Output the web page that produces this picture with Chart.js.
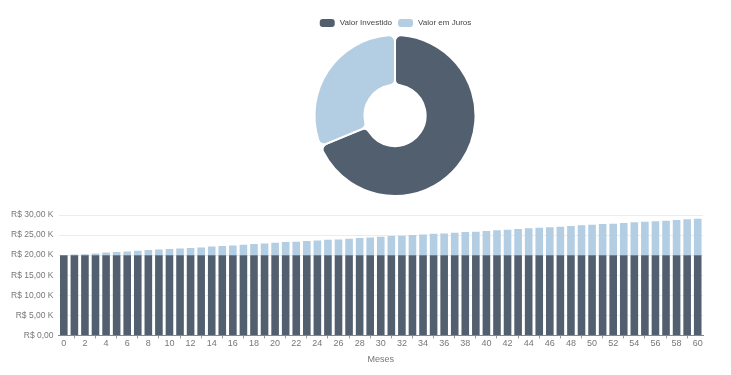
<!DOCTYPE html>
<html>
<head>
<meta charset="utf-8">
<script src="https://cdn.jsdelivr.net/npm/chart.js@4.4.1/dist/chart.umd.min.js"></script>
<style>
  body { margin: 0; background: #fff; width: 731px; height: 375px; position: relative; overflow: hidden; }
  #topBox { position: absolute; left: 60px; top: 0; width: 670px; height: 197px; }
  #barBox { position: absolute; left: 0; top: 198px; width: 731px; height: 177px; }
</style>
</head>
<body>
<div id="topBox"><canvas id="resumoChart"></canvas></div>
<div id="barBox"><canvas id="mesesChart"></canvas></div>
<script>
// dados
const resumoLabels = ['Valor Investido', 'Valor em Juros'];
const resumoValores = [20000, 9080];

const meses = [0, 1, 2, 3, 4, 5, 6, 7, 8, 9, 10, 11, 12, 13, 14, 15, 16, 17, 18, 19, 20,
  21, 22, 23, 24, 25, 26, 27, 28, 29, 30, 31, 32, 33, 34, 35, 36, 37, 38, 39, 40,
  41, 42, 43, 44, 45, 46, 47, 48, 49, 50, 51, 52, 53, 54, 55, 56, 57, 58, 59, 60];

const valorInvestido = [20000, 20000, 20000, 20000, 20000, 20000, 20000, 20000, 20000, 20000, 20000,
  20000, 20000, 20000, 20000, 20000, 20000, 20000, 20000, 20000, 20000,
  20000, 20000, 20000, 20000, 20000, 20000, 20000, 20000, 20000, 20000,
  20000, 20000, 20000, 20000, 20000, 20000, 20000, 20000, 20000, 20000,
  20000, 20000, 20000, 20000, 20000, 20000, 20000, 20000, 20000, 20000,
  20000, 20000, 20000, 20000, 20000, 20000, 20000, 20000, 20000, 20000];

const valorJuros = [0, 170, 250, 420, 670, 750, 920, 1080, 1250, 1420, 1500,
  1670, 1750, 1920, 2170, 2250, 2420, 2580, 2750, 2920, 3080,
  3250, 3330, 3500, 3670, 3830, 3920, 4080, 4250, 4420, 4580,
  4750, 4830, 5000, 5170, 5330, 5420, 5580, 5750, 5830, 6000,
  6170, 6330, 6500, 6670, 6830, 6950, 7080, 7250, 7420, 7580,
  7750, 7830, 8000, 8170, 8330, 8420, 8580, 8750, 8920, 9080];

const corInvestido = 'rgb(82, 95, 110)';
const corJuros = 'rgb(179, 205, 226)';

Chart.defaults.font.family = '"Liberation Sans", Arial, sans-serif';
Chart.defaults.font.size = 9;
Chart.defaults.color = '#666';
Chart.defaults.animation = false;

function formatarReal(v) {
    if (v === 0) return 'R$ 0,00';
    return 'R$ ' + (v / 1000).toFixed(2).replace('.', ',') + ' K';
}

// doughnut
new Chart(document.getElementById('resumoChart'), {
    type: 'doughnut',
    data: {
        labels: resumoLabels,
        datasets: [{
            data: resumoValores,
            backgroundColor: [corInvestido, corJuros],
            borderColor: '#fff',
            borderWidth: 2,
            borderRadius: 6,
            hoverOffset: 0
        }]
    },
    options: {
        responsive: true,
        maintainAspectRatio: false,
        cutout: '38%',
        layout: { padding: { top: 13 } },
        plugins: {
            legend: {
                position: 'top',
                maxHeight: 21,
                labels: {
                    boxWidth: 17,
                    boxHeight: 10,
                    padding: 5,
                    useBorderRadius: true,
                    borderRadius: 4,
                    color: '#444',
                    font: { size: 8 }
                }
            },
            tooltip: { enabled: false }
        }
    }
});

// barras empilhadas
new Chart(document.getElementById('mesesChart'), {
    type: 'bar',
    data: {
        labels: meses,
        datasets: [{
            label: 'Valor Investido',
            data: valorInvestido,
            backgroundColor: corInvestido
        }, {
            label: 'Valor em Juros',
            data: valorJuros,
            backgroundColor: corJuros
        }]
    },
    options: {
        responsive: true,
        maintainAspectRatio: false,
        layout: {
            padding: { left: 6, right: 28, top: 17, bottom: 6 }
        },
        scales: {
            x: {
                stacked: true,
                grid: { drawOnChartArea: false, color: '#999', tickLength: 3 },
                border: { color: '#888' },
                ticks: { maxRotation: 0, autoSkip: true, color: '#777', padding: 0 },
                title: { display: true, text: 'Meses', color: '#777', padding: { top: 5, bottom: 4 } }
            },
            y: {
                stacked: true,
                min: 0,
                max: 30000,
                grid: { color: '#ebebf5', drawTicks: false },
                border: { display: false },
                ticks: {
                    stepSize: 5000,
                    padding: 5,
                    color: '#777',
                    font: { size: 8.5 },
                    callback: function(v) { return formatarReal(v); }
                }
            }
        },
        plugins: {
            legend: { display: false },
            tooltip: { enabled: false }
        }
    }
});
</script>
</body>
</html>
